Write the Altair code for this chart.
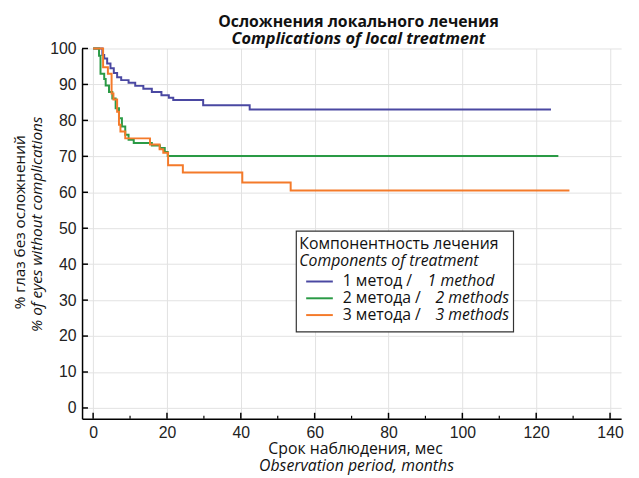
import altair as alt
import pandas as pd

# ---- data ----
series_names = ["1 метод / 1 method", "2 метода / 2 methods", "3 метода / 3 methods"]
series_colors = ["#4a48a2", "#2a9a45", "#f47a2a"]

blue_t = [0, 2.5, 3.0, 3.8, 4.7, 5.6, 6.5, 7.6, 9.6, 11.4, 13.6, 15.9, 18.5, 20.5, 21.7, 29.8, 42.4, 124]
blue_v = [100, 98.2, 97.2, 95.8, 94.5, 93.2, 92.0, 91.2, 90.5, 89.6, 88.8, 87.9, 87.0, 86.3, 85.7, 84.2, 83.0, 83.0]

green_t = [0, 1.6, 2.0, 3.0, 3.4, 4.3, 5.2, 6.1, 7.0, 7.8, 8.7, 9.6, 11.0, 15.9, 18.1, 19.4, 20.2, 126]
green_v = [100, 98.0, 93.0, 91.5, 89.7, 87.9, 86.1, 83.4, 80.6, 78.3, 76.0, 74.6, 73.7, 73.0, 72.3, 71.2, 70.1, 70.1]

orange_t = [0, 2.7, 4.0, 5.0, 5.5, 6.5, 7.0, 7.4, 8.7, 15.4, 18.0, 19.0, 20.3, 24.3, 40.4, 53.5, 129]
orange_v = [100, 94.8, 93.0, 87.5, 85.8, 82.4, 78.8, 76.9, 75.0, 73.3, 72.0, 71.0, 67.5, 65.5, 62.7, 60.5, 60.5]

x_ticks = [0, 20, 40, 60, 80, 100, 120, 140]
x_minor = [10, 30, 50, 70, 90, 110, 130]
y_ticks = [0, 10, 20, 30, 40, 50, 60, 70, 80, 90, 100]

title_ru = "Осложнения локального лечения"
title_en = "Complications of local treatment"
xtitle_ru = "Срок наблюдения, мес"
xtitle_en = "Observation period, months"
ytitle_ru = "% глаз без осложнений"
ytitle_en = "% of eyes without complications"
legend_title_ru = "Компонентность лечения"
legend_title_en = "Components of treatment"
legend_ru = ["1 метод /", "2 метода /", "3 метода /"]
legend_en = ["1 method", "2 methods", "3 methods"]

W, H = 546, 375
xs = alt.Scale(domain=[-3, 143], nice=False, zero=False)
ys = alt.Scale(domain=[-3, 100], nice=False, zero=False)
TXT = "Open Sans"

x_axis = alt.Axis(values=x_ticks, grid=True, gridColor="#e2e2e2", gridWidth=1,
                  ticks=False, domainColor="black", domainWidth=1.5,
                  labelFont="Liberation Sans", labelFontSize=16, labelColor="#222",
                  labelPadding=6, title=None)
y_axis = alt.Axis(values=y_ticks, grid=True, gridColor="#e2e2e2", gridWidth=1,
                  ticks=False, domainColor="black", domainWidth=1.5,
                  labelFont="Liberation Sans", labelFontSize=16, labelColor="#222",
                  labelPadding=6, title=None)

# ---- curves ----
curve_layers = []
for name, color, t, v in zip(series_names, series_colors,
                             [blue_t, green_t, orange_t], [blue_v, green_v, orange_v]):
    df = pd.DataFrame({"month": t, "pct": v, "group": name})
    curve_layers.append(
        alt.Chart(df).mark_line(interpolate="step-after", strokeWidth=2, color=color).encode(
            x=alt.X("month:Q", scale=xs, axis=x_axis),
            y=alt.Y("pct:Q", scale=ys, axis=y_axis),
        )
    )

# ---- inward ticks ----
ytick_layer = alt.Chart(pd.DataFrame({"pct": y_ticks})).mark_rule(color="black", strokeWidth=1.5).encode(
    y=alt.Y("pct:Q", scale=ys, axis=y_axis), x=alt.value(0), x2=alt.value(6))
xtick_layer = alt.Chart(pd.DataFrame({"month": x_ticks})).mark_rule(color="black", strokeWidth=1.5).encode(
    x=alt.X("month:Q", scale=xs, axis=x_axis), y=alt.value(H), y2=alt.value(H - 6))
xminor_layer = alt.Chart(pd.DataFrame({"month": x_minor})).mark_rule(color="black", strokeWidth=1.2).encode(
    x=alt.X("month:Q", scale=xs, axis=x_axis), y=alt.value(H), y2=alt.value(H - 3))


def txt(s, x, y, size, style="normal", weight="normal", angle=0, align="center"):
    return alt.Chart(pd.DataFrame({"label": [s]})).mark_text(
        align=align, baseline="middle", fontSize=size, fontStyle=style,
        fontWeight=weight, angle=angle, font=TXT, color="#111").encode(
        text="label:N", x=alt.value(x), y=alt.value(y))


ann = [
    txt(title_ru, 280, -27, 16, weight="bold"),
    txt(title_en, 280, -10, 16.5, style="italic", weight="bold"),
    txt(xtitle_ru, 277, 406, 16),
    txt(xtitle_en, 278, 423, 16, style="italic"),
    txt(ytitle_ru, -63, 176, 15.5, angle=270),
    txt(ytitle_en, -46, 178, 15.5, style="italic", angle=270),
]

# ---- legend ----
legend_box = alt.Chart(pd.DataFrame({"a": [0]})).mark_rect(
    fill="white", stroke="#333", strokeWidth=1.2).encode(
    x=alt.value(217), x2=alt.value(437), y=alt.value(185), y2=alt.value(287))
leg = [legend_box,
       txt(legend_title_ru, 220, 198, 16, align="left"),
       txt(legend_title_en, 220, 215, 16, style="italic", align="left")]
row_y = [236, 253, 270]
en_x = [350, 358, 358]
for ru, en, c, yy, ex in zip(legend_ru, legend_en, series_colors, row_y, en_x):
    leg.append(alt.Chart(pd.DataFrame({"a": [0]})).mark_rule(color=c, strokeWidth=2).encode(
        x=alt.value(227), x2=alt.value(254), y=alt.value(yy)))
    leg.append(txt(ru, 264, yy, 16, align="left"))
    leg.append(txt(en, ex, yy, 16, style="italic", align="left"))

chart = alt.layer(*curve_layers, ytick_layer, xtick_layer, xminor_layer, *leg, *ann).properties(
    width=W, height=H,
    padding={"left": 75, "top": 38, "right": 10, "bottom": 57},
    autosize=alt.AutoSizeParams(type="none"),
    background="white",
).configure_view(stroke="transparent")

chart.save("out.html", embed_options={"renderer": "svg", "actions": False})
